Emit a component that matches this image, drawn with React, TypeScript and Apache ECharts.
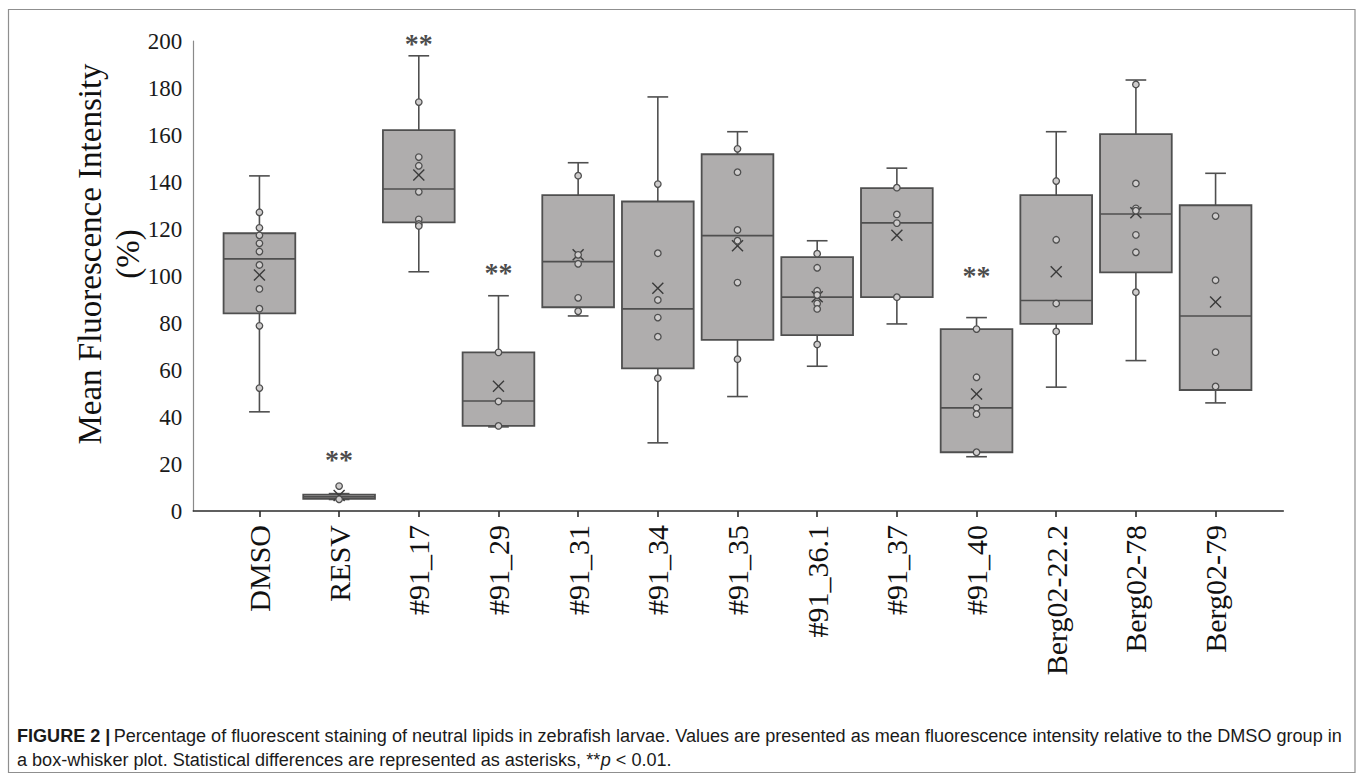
import React, { useEffect, useRef } from "react";
import * as echarts from "echarts";

const categories = [
  "DMSO", "RESV", "#91_17", "#91_29", "#91_31", "#91_34", "#91_35",
  "#91_36.1", "#91_37", "#91_40", "Berg02-22.2", "Berg02-78", "Berg02-79",
];
const whiskerMin = [42.2, 4.9, 101.8, 35.8, 83.0, 29.0, 48.7, 61.6, 79.6, 23.1, 52.7, 64.0, 46.0];
const quartile1 = [84.1, 5.2, 122.8, 36.2, 86.7, 60.7, 72.8, 74.8, 91.0, 25.0, 79.6, 101.5, 51.5];
const medians = [107.3, 6.0, 137.0, 46.8, 106.1, 86.0, 117.2, 91.0, 122.6, 43.9, 89.6, 126.4, 83.0];
const quartile3 = [118.2, 7.0, 162.1, 67.5, 134.4, 131.7, 151.8, 108.0, 137.4, 77.4, 134.4, 160.4, 130.1];
const whiskerMax = [142.6, 7.4, 193.7, 91.6, 148.2, 176.2, 161.4, 115.0, 145.9, 82.3, 161.4, 183.4, 143.7];
const means = [100.4, 6.6, 143.0, 53.1, 109.0, 94.8, 112.9, 91.2, 117.3, 49.8, 101.8, 126.9, 88.9];
const observations: number[][] = [
  [127.1, 120.5, 117.3, 113.9, 110.4, 104.7, 94.5, 86.1, 78.8, 52.3],
  [10.6, 5.0],
  [174.0, 150.6, 146.9, 135.8, 124.1, 122.1, 121.3],
  [67.5, 46.6, 36.2],
  [142.7, 109.0, 105.2, 90.7, 85.0],
  [139.1, 109.7, 89.8, 82.3, 74.2, 56.5],
  [154.1, 144.2, 119.6, 115.0, 97.2, 64.6],
  [109.5, 103.5, 93.7, 91.9, 88.3, 86.0, 70.9],
  [137.6, 126.2, 122.5, 91.0],
  [77.4, 56.9, 43.9, 41.2, 25.0],
  [140.4, 115.4, 88.3, 76.4],
  [181.5, 139.4, 128.8, 127.8, 117.5, 110.1, 93.1],
  [125.5, 98.2, 67.6, 53.0],
];
// significance markers: [category index, height in axis units]
const significance = [
  [1, 22.1],
  [2, 199.0],
  [3, 101.7],
  [9, 100.2],
];
const yTicks = { min: 0, max: 200, interval: 20 };
const captionLine1 =
  "Percentage of fluorescent staining of neutral lipids in zebrafish larvae. Values are presented as mean fluorescence intensity relative to the DMSO group in";
const captionLine2a = "a box-whisker plot. Statistical differences are represented as asterisks, **";
const captionLine2b = " < 0.01.";

const BOX_FILL = "#afadad";
const LINE = "#4f4f4f";
const CAPTION_FONT = "'Liberation Sans', Arial, sans-serif";

export default function App() {
  const ref = useRef<HTMLDivElement>(null);
  useEffect(() => {
    if (!ref.current) return;
    const chart = echarts.init(ref.current, undefined, { renderer: "svg" });

    const boxData = categories.map((_, i) => [
      i, whiskerMin[i], quartile1[i], medians[i], quartile3[i], whiskerMax[i], means[i],
    ]);
    const pointData: number[][] = [];
    observations.forEach((vals, i) => vals.forEach((v) => pointData.push([i, v])));

    const renderBox = (params: any, api: any) => {
      const idx = api.value(0);
      const vMin = api.value(1), vQ1 = api.value(2), vMed = api.value(3);
      const vQ3 = api.value(4), vMax = api.value(5), vMean = api.value(6);
      const band = api.size([1, 0])[0];
      const half = band * 0.45;
      const capHalf = band * 0.13;
      const c = api.coord([idx, vMed]);
      const cx = c[0];
      const yMin = api.coord([idx, vMin])[1];
      const yQ1 = api.coord([idx, vQ1])[1];
      const yMed = c[1];
      const yQ3 = api.coord([idx, vQ3])[1];
      const yMax = api.coord([idx, vMax])[1];
      const yMean = api.coord([idx, vMean])[1];
      const ls = { stroke: LINE, lineWidth: 1.6 };
      const xs = 5.5;
      return {
        type: "group",
        children: [
          { type: "line", shape: { x1: cx, y1: yMax, x2: cx, y2: yQ3 }, style: ls },
          { type: "line", shape: { x1: cx, y1: yQ1, x2: cx, y2: yMin }, style: ls },
          { type: "line", shape: { x1: cx - capHalf, y1: yMax, x2: cx + capHalf, y2: yMax }, style: ls },
          { type: "line", shape: { x1: cx - capHalf, y1: yMin, x2: cx + capHalf, y2: yMin }, style: ls },
          {
            type: "rect",
            shape: { x: cx - half, y: yQ3, width: half * 2, height: Math.max(yQ1 - yQ3, 1) },
            style: { fill: BOX_FILL, stroke: LINE, lineWidth: 1.8 },
          },
          { type: "line", shape: { x1: cx - half, y1: yMed, x2: cx + half, y2: yMed }, style: ls },
          { type: "line", shape: { x1: cx - xs, y1: yMean - xs, x2: cx + xs, y2: yMean + xs }, style: { stroke: "#3a3a3a", lineWidth: 1.4 } },
          { type: "line", shape: { x1: cx - xs, y1: yMean + xs, x2: cx + xs, y2: yMean - xs }, style: { stroke: "#3a3a3a", lineWidth: 1.4 } },
        ],
      };
    };

    const idxs = categories.map((_, i) => i);

    const option: any = {
      animation: false,
      backgroundColor: "#ffffff",
      grid: { left: 193.3, right: 74.7, top: 41, bottom: 264, containLabel: false },
      xAxis: {
        type: "value",
        min: -0.83,
        max: 12.85,
        splitLine: { show: false },
        axisLine: { show: true, onZero: false, lineStyle: { color: "#2b2b2b", width: 1.6 } },
        axisTick: { show: true, customValues: idxs, length: 6, inside: false, lineStyle: { color: "#2b2b2b", width: 1.6 } },
        axisLabel: {
          show: true,
          customValues: idxs,
          rotate: 90,
          margin: 14,
          fontFamily: "'Liberation Serif', 'Times New Roman', serif",
          fontSize: 30,
          color: "#111111",
          formatter: (v: number) => categories[Math.round(v)] ?? "",
        },
      },
      yAxis: {
        type: "value",
        min: yTicks.min,
        max: yTicks.max,
        interval: yTicks.interval,
        splitLine: { show: false },
        axisLine: { show: true, onZero: false, lineStyle: { color: "#8a8a8a", width: 1.2 } },
        axisTick: { show: false },
        axisLabel: {
          margin: 11,
          fontFamily: "'Liberation Serif', 'Times New Roman', serif",
          fontSize: 23,
          color: "#1a1a1a",
        },
      },
      series: [
        {
          type: "custom",
          renderItem: renderBox,
          data: boxData,
          encode: { x: 0, y: [1, 2, 3, 4, 5] },
          z: 2,
          clip: false,
        },
        {
          type: "scatter",
          data: pointData,
          symbol: "circle",
          symbolSize: 6.5,
          itemStyle: { color: "#cfcdcd", borderColor: "#4f4f4f", borderWidth: 1.3, opacity: 1 },
          z: 4,
        },
        {
          type: "scatter",
          data: significance,
          symbolSize: 0,
          clip: false,
          z: 5,
          label: {
            show: true,
            position: "inside",
            formatter: "**",
            fontFamily: "'Liberation Serif', 'Times New Roman', serif",
            fontSize: 28,
            fontWeight: "bold",
            color: "#1a1a1a",
          },
        },
      ],
      graphic: [
        {
          type: "rect",
          shape: { x: 8.5, y: 9.5, width: 1346.5, height: 763 },
          style: { fill: "none", stroke: "#8f8f8f", lineWidth: 1.2 },
          silent: true,
          z: -1,
        },
        {
          type: "text",
          x: 109,
          y: 254,
          rotation: Math.PI / 2,
          style: {
            text: "Mean Fluorescence Intensity\n(%)",
            fontFamily: "'Liberation Serif', 'Times New Roman', serif",
            fontSize: 33,
            lineHeight: 38,
            fill: "#111111",
            align: "center",
            verticalAlign: "middle",
          },
        },
        {
          type: "group",
          x: 17,
          y: 735,
          scaleX: 0.952,
          children: [
            {
              type: "text",
              x: 0,
              y: 0,
              style: {
                text: "{b|FIGURE 2 |} {n|" + captionLine1 + "}",
                verticalAlign: "middle",
                rich: {
                  b: { fontFamily: CAPTION_FONT, fontSize: 19, fontWeight: "bold", fill: "#1a1a1a" },
                  n: { fontFamily: CAPTION_FONT, fontSize: 19, fill: "#1a1a1a" },
                },
              },
            },
          ],
        },
        {
          type: "group",
          x: 17,
          y: 759,
          scaleX: 0.952,
          children: [
            {
              type: "text",
              x: 0,
              y: 0,
              style: {
                text: "{n|" + captionLine2a + "}{i|p}{n|" + captionLine2b + "}",
                verticalAlign: "middle",
                rich: {
                  n: { fontFamily: CAPTION_FONT, fontSize: 19, fill: "#1a1a1a" },
                  i: { fontFamily: CAPTION_FONT, fontSize: 19, fontStyle: "italic", fill: "#1a1a1a" },
                },
              },
            },
          ],
        },
      ],
    };
    chart.setOption(option);
    return () => chart.dispose();
  }, []);

  return (
    <div
      ref={ref}
      style={{ position: "absolute", left: 0, top: 0, width: 1358, height: 775, background: "#fff" }}
    />
  );
}
